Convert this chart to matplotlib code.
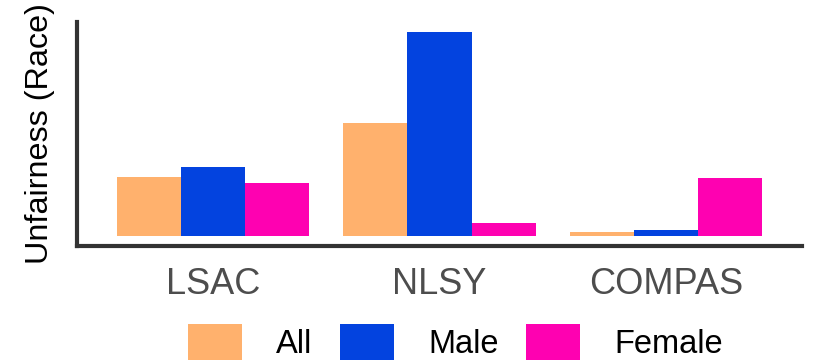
import numpy as np
import matplotlib
matplotlib.use('Agg')
import matplotlib.pyplot as plt
from matplotlib.patches import Patch

plt.rcParams['font.family'] = ['Liberation Sans', 'DejaVu Sans']

# data (arbitrary units)
datasets = ['LSAC', 'NLSY', 'COMPAS']
groups = ['All', 'Male', 'Female']
vals_all = [0.059, 0.112, 0.004]
vals_male = [0.069, 0.203, 0.006]
vals_female = [0.053, 0.013, 0.058]
colors = ['#ffb16d', '#0343df', '#fe01b1']

fig = plt.figure(figsize=(8.25, 3.6), dpi=100)
ax = fig.add_axes([77 / 825, 1 - 246 / 360, (802 - 77) / 825, (246 - 22) / 360])

x = np.arange(len(datasets)) + 1
w = 0.85 / 3
for k, (vals, c) in enumerate(zip([vals_all, vals_male, vals_female], colors)):
    ax.bar(x + (k - 1) * w, vals, width=w, color=c, linewidth=0)

top = max(vals_male)
ax.set_xlim(0.4, 3.6)
ax.set_ylim(-0.05 * top, 1.05 * top)

ax.set_xticks(x)
ax.set_xticklabels(datasets, fontsize=26, color='#4d4d4d')
ax.tick_params(axis='x', length=0, pad=15)
ax.set_yticks([])
ax.set_ylabel('Unfairness (Race)', fontsize=23.3, color='black')
ax.yaxis.set_label_coords(-0.031, 0.5)

for s in ['top', 'right']:
    ax.spines[s].set_visible(False)
for s in ['left', 'bottom']:
    ax.spines[s].set_color('#333333')
    ax.spines[s].set_linewidth(3)

# legend sits at the bottom edge, keys partly cut off like the original
handles = [Patch(facecolor=c, edgecolor='none') for c in colors]
fig.legend(handles, groups, loc='upper center', ncol=3, frameon=False,
           bbox_to_anchor=(0.552, 1 - 308 / 360), fontsize=23.5, borderpad=0,
           handlelength=1.65, handleheight=1.3, handletextpad=1.05,
           columnspacing=0.85)

fig.savefig('out.png', dpi=100)
